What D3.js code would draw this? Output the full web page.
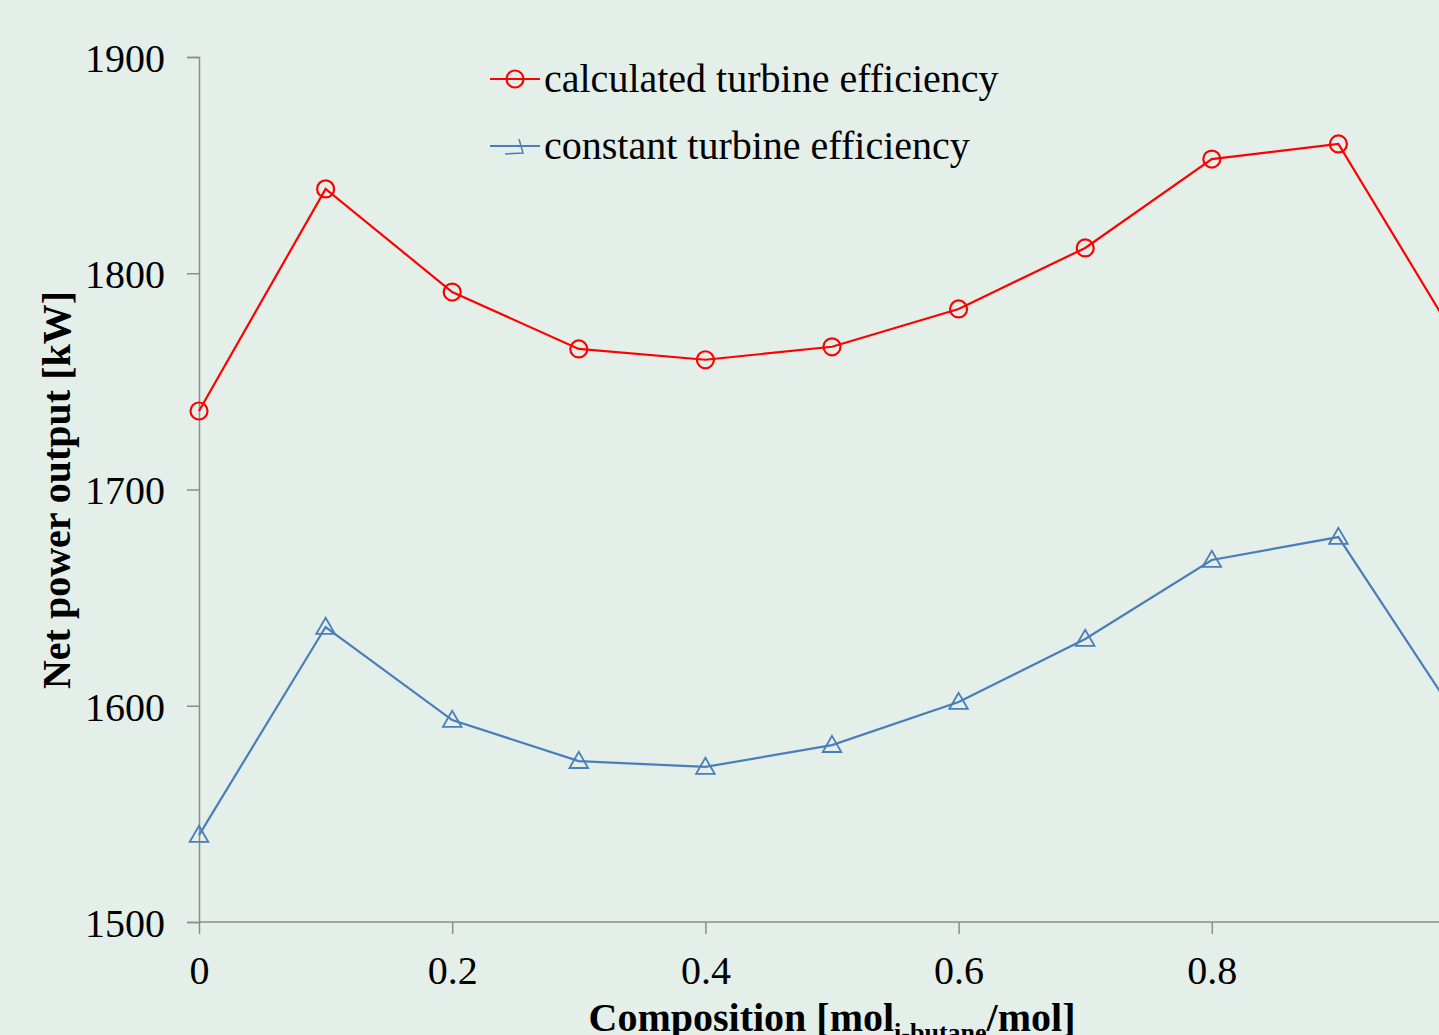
<!DOCTYPE html>
<html><head><meta charset="utf-8">
<script src="https://cdn.jsdelivr.net/npm/d3@7"></script>
<style>html,body{margin:0;padding:0;background:#e4efe9;overflow:hidden}svg{display:block}</style>
</head><body>
<svg id="c" width="1439" height="1035"></svg>
<script>
const composition = [0,0.1,0.2,0.3,0.4,0.5,0.6,0.7,0.8,0.9,1.0];
const calculated = [1736.3,1839,1791.3,1765,1760,1766,1783.5,1811.7,1852.8,1859.8,1763];
const constant = [1540.2,1636.4,1593.4,1574.4,1571.7,1581.8,1601.7,1630.9,1667.4,1678.0,1589];
const xTicks = [0,0.2,0.4,0.6,0.8];
const yTicks = [1500,1600,1700,1800,1900];
const seriesNames = ["calculated turbine efficiency","constant turbine efficiency"];

const svg = d3.select("#c");
const font = "'Liberation Serif','Times New Roman',serif";
svg.append("rect").attr("width",1439).attr("height",1035).attr("fill","#e4efe9");
const x = d3.scaleLinear().domain([0,1]).range([199,1465]);
const y = d3.scaleLinear().domain([1500,1900]).range([922,57]);

const axisColor = "#8c8c8c";
const gx = svg.append("g").attr("transform","translate(0,922)")
  .call(d3.axisBottom(x).tickValues(xTicks).tickSize(12).tickPadding(22).tickFormat(d=>d===0?"0":d3.format(".1f")(d)));
gx.select("path.domain").attr("d","M199,0H1465");
const gy = svg.append("g").attr("transform","translate(199,0)")
  .call(d3.axisLeft(y).tickValues(yTicks).tickSize(12).tickPadding(22).tickFormat(d3.format("d")));
[gx,gy].forEach(g=>{
  g.selectAll("path").attr("stroke",axisColor).attr("stroke-width",1.5);
  g.selectAll("line").attr("stroke",axisColor).attr("stroke-width",1.5);
  g.selectAll("text").attr("font-family",font).attr("font-size",40).attr("fill","#000");
});
gy.selectAll("text").attr("dy","0.36em");

svg.append("clipPath").attr("id","pc").append("rect").attr("x",0).attr("y",0).attr("width",1439).attr("height",1035);
const line = d3.line().x((d,i)=>x(composition[i])).y(d=>y(d));
const plot = svg.append("g").attr("clip-path","url(#pc)");
plot.append("path").datum(calculated).attr("d",line).attr("fill","none").attr("stroke","#ff0000").attr("stroke-width",2.2);
plot.append("path").datum(constant).attr("d",line).attr("fill","none").attr("stroke","#4a7ebb").attr("stroke-width",2.2);
plot.selectAll(".c").data(calculated).enter().append("circle")
  .attr("cx",(d,i)=>x(composition[i])).attr("cy",d=>y(d)).attr("r",8.5)
  .attr("fill","none").attr("stroke","#ff0000").attr("stroke-width",2.2);
const tri = d3.symbol().type(d3.symbolTriangle).size(150);
plot.selectAll(".t").data(constant).enter().append("path")
  .attr("d",tri).attr("transform",(d,i)=>`translate(${x(composition[i])},${y(d)+1.5})`)
  .attr("fill","none").attr("stroke","#4a7ebb").attr("stroke-width",1.8);

// axis titles
svg.append("text").attr("transform","translate(70,490) rotate(-90)").attr("text-anchor","middle")
  .attr("font-family",font).attr("font-size",40).attr("font-weight","bold").text("Net power output [kW]");
const xt = svg.append("text").attr("x",832).attr("y",1031).attr("text-anchor","middle")
  .attr("font-family",font).attr("font-size",40).attr("font-weight","bold");
xt.append("tspan").text("Composition [mol");
xt.append("tspan").attr("font-size",26).attr("dy",10).text("i-butane");
xt.append("tspan").attr("dy",-10).text("/mol]");

// legend
const lg = svg.append("g");
lg.append("line").attr("x1",490).attr("x2",540).attr("y1",79).attr("y2",79).attr("stroke","#ff0000").attr("stroke-width",2.2);
lg.append("circle").attr("cx",515).attr("cy",79).attr("r",8.5).attr("fill","none").attr("stroke","#ff0000").attr("stroke-width",2.2);
lg.append("text").attr("x",544).attr("y",92).attr("font-family",font).attr("font-size",40).text(seriesNames[0]);
lg.append("line").attr("x1",490).attr("x2",540).attr("y1",146).attr("y2",146).attr("stroke","#4a7ebb").attr("stroke-width",2.2);
lg.append("path").attr("d","M519,139 L523,153 L505,154").attr("fill","none").attr("stroke","#4a7ebb").attr("stroke-width",1.5);
lg.append("text").attr("x",544).attr("y",159).attr("font-family",font).attr("font-size",40).text(seriesNames[1]);
</script>
</body></html>
